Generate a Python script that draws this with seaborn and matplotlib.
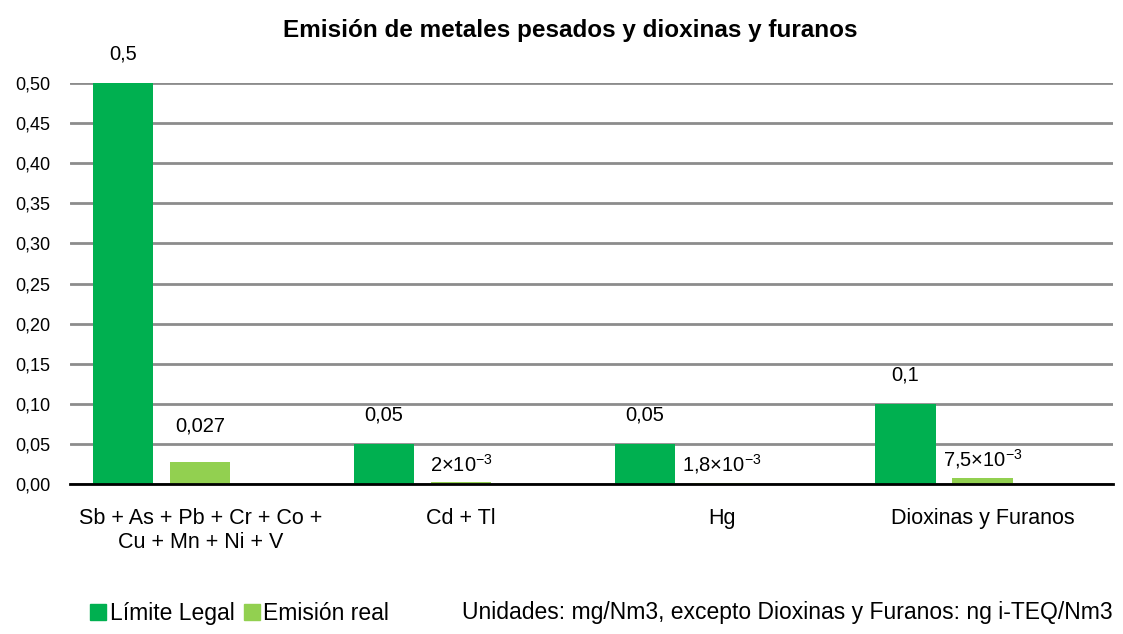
import pandas as pd
import matplotlib.pyplot as plt
import seaborn as sns
from matplotlib import font_manager
from matplotlib.patches import Patch

# ===== datos =====
categorias = ['Sb + As + Pb + Cr + Co +\nCu + Mn + Ni + V', 'Cd + Tl', 'Hg', 'Dioxinas y Furanos']
limite_legal = [0.5, 0.05, 0.05, 0.1]
emision_real = [0.027, 0.002, 0.0018, 0.0075]
etiquetas_limite = ['0,5', '0,05', '0,05', '0,1']
etiquetas_emision = ['0,027', r'2$\times$10$^{-3}$', r'1,8$\times$10$^{-3}$', r'7,5$\times$10$^{-3}$']
series = ['Límite Legal', 'Emisión real', 'Unidades']
nota = 'Unidades: mg/Nm3, excepto Dioxinas y Furanos: ng i-TEQ/Nm3'
y_ticks = [0, 0.05, 0.10, 0.15, 0.20, 0.25, 0.30, 0.35, 0.40, 0.45, 0.50]

sns.set_style('white')
nombres = {f.name for f in font_manager.fontManager.ttflist}
fuente = 'Liberation Sans Narrow' if 'Liberation Sans Narrow' in nombres else 'Liberation Sans'
plt.rcParams['font.family'] = [fuente, 'DejaVu Sans']
plt.rcParams['mathtext.fontset'] = 'custom'
plt.rcParams['mathtext.rm'] = fuente
plt.rcParams['mathtext.it'] = fuente
plt.rcParams['mathtext.bf'] = fuente + ':bold'
plt.rcParams['text.color'] = 'black'
plt.rcParams['xtick.color'] = 'black'
plt.rcParams['ytick.color'] = 'black'

df = pd.DataFrame({
    'categoria': categorias * 3,
    'valor': limite_legal + emision_real + [0] * len(categorias),
    'serie': [series[0]] * 4 + [series[1]] * 4 + [series[2]] * 4,
})

fig = plt.figure(figsize=(11.23, 6.34), dpi=100)
ax = fig.add_axes([0.0623, 0.2366, 0.9287, 0.6324])

# tercera serie vacía (Unidades) para reproducir el hueco de Excel
sns.barplot(data=df, x='categoria', y='valor', hue='serie', hue_order=series,
            palette=['#00B050', '#92D050', (1, 1, 1, 0)], width=0.886, gap=0.22,
            ax=ax, legend=False, saturation=1, linewidth=0)

ax.set_ylim(0, 0.5)
ax.set_xlim(-0.5, 3.5)
ax.set_yticks(y_ticks)
ax.set_yticklabels([f'{v:.2f}'.replace('.', ',') for v in y_ticks], fontsize=13)
ax.tick_params(axis='x', labelsize=15.5, length=0, pad=17)
ax.tick_params(axis='y', length=0, pad=14)
ax.set_xlabel('')
ax.set_ylabel('')
ax.yaxis.grid(True, color='#8c8c8c', linewidth=2)
ax.set_axisbelow(True)
for s in ['top', 'right', 'left']:
    ax.spines[s].set_visible(False)
ax.spines['bottom'].set_color('black')
ax.spines['bottom'].set_linewidth(2)
ax.spines['bottom'].set_zorder(5)

# etiquetas de datos
ax.bar_label(ax.containers[0], labels=etiquetas_limite, padding=14, fontsize=14.5)
pads_emision = [19, 5, 5, 5]
for barra, texto, pad in zip(ax.containers[1], etiquetas_emision, pads_emision):
    ax.annotate(texto, (barra.get_x() + barra.get_width() / 2, barra.get_height()),
                xytext=(0, pad), textcoords='offset points',
                ha='center', va='bottom', fontsize=14.5)

fig.text(0.508, 0.952, 'Emisión de metales pesados y dioxinas y furanos',
         ha='center', va='center', fontsize=17.5, fontweight='bold')

handles = [Patch(color='#00B050'), Patch(color='#92D050')]
fig.legend(handles, series[:2], loc='lower left',
           bbox_to_anchor=(0.062, -0.018), ncol=2, frameon=False, fontsize=16.5,
           handlelength=0.7, handleheight=0.7, handletextpad=0.15, columnspacing=0.4)
fig.text(0.991, 0.034, nota, ha='right', va='center', fontsize=16.5)

fig.savefig('out.png', dpi=100)
